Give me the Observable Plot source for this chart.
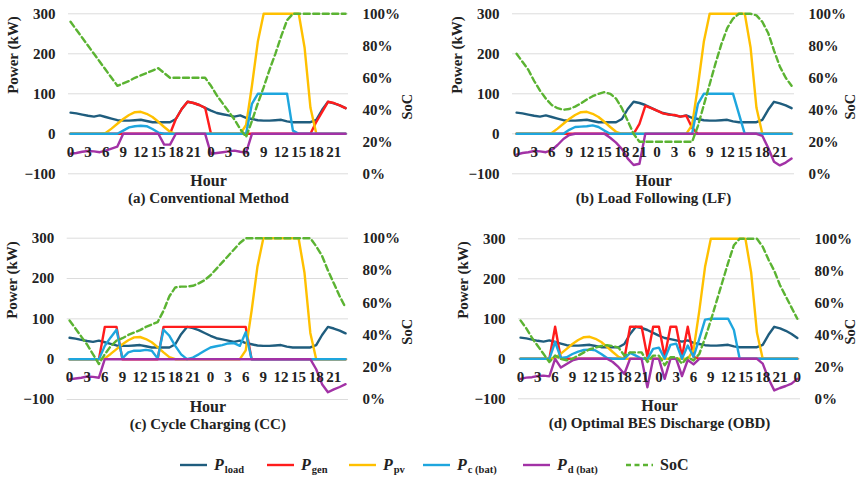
<!DOCTYPE html>
<html>
<head>
<meta charset="utf-8">
<script src="https://cdn.jsdelivr.net/npm/d3@7"></script>
<script src="https://cdn.jsdelivr.net/npm/@observablehq/plot@0.6"></script>
<style>
  html, body { margin: 0; padding: 0; background: #fff; }
  #wrap { position: relative; width: 858px; height: 480px; overflow: hidden; background: #fff;
          font-family: "Liberation Serif", "Times New Roman", serif; color: #222; }
  .panel { position: absolute; }
  .panel svg { overflow: visible; }
  .leg { position: absolute; top: 455px; height: 20px; display: flex; align-items: center; font-weight: bold; }
  .leg .P { font-style: italic; font-size: 16px; }
  .leg .sub { font-size: 10.5px; position: relative; top: 4px; margin-left: 1px; }
  .leg .plain { font-size: 16px; }
</style>
</head>
<body>
<div id="wrap"></div>
<script>
// ---------- data ----------
const hourTicks48 = [0, 3, 6, 9, 12, 15, 18, 21, 24, 27, 30, 33, 36, 39, 42, 45];
const hourTicks49 = [0, 3, 6, 9, 12, 15, 18, 21, 24, 27, 30, 33, 36, 39, 42, 45, 48];
const powerTicks = [-100, 0, 100, 200, 300];
const socTicks = [0, 20, 40, 60, 80, 100];

const loadABC = [53,51,48,45,43,46,42,38,34,33,33,34,35,32,29,29,29,29,37,62,80,77,72,65,
                 58,52,49,46,43,46,40,37,34,33,33,34,35,31,29,29,29,29,35,60,80,76,71,64];
const loadD   = [53,51,48,45,43,46,42,38,34,33,33,34,35,32,29,29,29,29,37,62,80,77,72,65,
                 58,52,49,46,43,46,40,37,34,33,33,34,35,31,29,29,29,29,35,60,80,76,70,62,52];

const pvABC = [0,0,0,0,0,0,2,13,25,37,47,54,55,50,42,30,17,5,0,0,0,0,0,0,
               0,0,0,0,0,0,22,120,230,300,300,300,300,300,300,300,215,65,0,0,0,0,0,0];
const pvD   = [0,0,0,0,0,0,2,13,25,37,47,54,55,50,42,30,17,5,0,0,0,0,0,0,
               0,0,0,0,0,0,22,120,230,300,300,300,300,300,300,300,215,65,0,0,0,0,0,0,0];

const genA = [0,0,0,0,0,0,0,0,0,0,0,0,0,0,0,0,0,0,37,62,80,77,72,65,
              0,0,0,0,0,0,0,0,0,0,0,0,0,0,0,0,0,0,30,55,80,77,71,64];
const genB = [0,0,0,0,0,0,0,0,0,0,0,0,0,0,0,0,0,0,0,0,0,25,70,64,
              58,51,48,47,43,45,15,0,0,0,0,0,0,0,0,0,0,0,0,0,0,0,0,0];
const genC = [0,0,0,0,0,0,80,80,80,0,0,0,0,0,0,0,80,80,80,80,80,80,80,80,
              80,80,80,80,80,80,80,0,0,0,0,0,0,0,0,0,0,0,0,0,0,0,0,0];
const genD = [0,0,0,0,0,0,80,0,0,0,0,0,0,0,0,0,0,0,0,80,80,80,5,80,
              80,5,80,80,5,80,5,0,0,0,0,0,0,0,0,0,0,0,0,0,0,0,0,0,0];

const pcA = [0,0,0,0,0,0,0,0,0,8,16,19,20,19,12,3,0,0,0,0,0,0,0,0,
             0,0,0,0,0,0,0,75,100,100,100,100,100,100,8,0,0,0,0,0,0,0,0,0];
const pcB = [0,0,0,0,0,0,0,0,0,10,17,18,19,21,17,8,0,0,0,0,0,0,0,0,
             0,0,0,0,0,0,0,75,100,100,100,100,100,100,50,0,0,0,0,0,0,0,0,0];
const pcC = [0,0,0,0,0,0,33,54,73,2,17,21,21,23,21,2,73,58,33,12,0,4,12,21,
             29,32,35,39,40,33,67,0,0,0,0,0,0,0,0,0,0,0,0,0,0,0,0,0];
const pcD = [0,0,0,0,0,0,42,2,4,12,18,22,23,21,12,2,0,0,0,15,8,0,0,25,
             28,0,35,38,0,33,5,50,98,100,100,100,100,72,0,0,0,0,0,0,0,0,0,0,0];

const pdA = [-50,-48,-45,-43,-44,-46,-42,-37,-32,0,0,0,0,0,0,0,-27,-27,0,0,0,0,0,0,
             -50,-48,-46,-44,-42,-45,-47,0,0,0,0,0,0,0,0,0,0,0,0,0,0,0,0,0];
const pdB = [-52,-48,-46,-43,-44,-46,-41,-28,-13,-3,0,0,0,0,0,0,-10,-22,-38,-62,-78,-75,0,0,
             0,0,0,0,0,0,0,0,0,0,0,0,0,0,0,0,0,0,-5,-35,-70,-79,-72,-62];
const pdC = [-50,-48,-46,-43,-44,-46,0,0,0,0,0,0,0,0,0,0,0,0,0,0,0,0,0,0,
             0,0,0,0,0,0,0,0,0,0,0,0,0,0,0,0,0,0,-25,-62,-82,-75,-69,-62];
const pdD = [-50,-47,-46,-43,-42,-44,0,-22,-13,-4,0,0,0,0,0,0,-8,-21,-38,0,0,0,-71,0,
             0,-50,0,0,-43,-3,-14,0,0,0,0,0,0,0,0,0,0,0,-12,-50,-79,-73,-68,-62,-50];

const socA = [95,90,85,80,75,70,65,60,55,56.5,58,60,61.5,63,64.5,66,63,60,60,60,60,60,60,60,
              55,49,44,39,34,28,23,33,44,54,65,75,86,96,100,100,100,100,100,100,100,100,100,100];
const socB = [75,70,65,58,52,47,43,41,40,40.5,42,44,46.5,48.5,50,51,50,47,41,33,25,20,20,20,
              20,20,20,20,20,20,20,30,43,56,69,81,91,97,100,100,100,99,95,88,77,67,60,55];
const socC = [49,44,39,34,28,22,28,33,36.5,38,40,41.5,43,45,46.5,48,55,64,69.5,70,70,70.5,72,74,
              77,81,85,89,93,97,100,100,100,100,100,100,100,100,100,100,100,100,95,89,80,72,64,57];
const socD = [49,44,38,33,28,23,27,25,24,25,27,29,31,32,33,33.5,33,32,27,29,29,29,23,27,
              27,21,26,26,22,26,24,28,38,49,61,73,85,96,100,100,100,100,95,87,80,71,64,57,50];

const seriesNames = ["load", "gen", "pv", "c (bat)", "d (bat)", "SoC"];
const titles = ["(a) Conventional Method", "(b) Load Following (LF)", "(c) Cycle Charging (CC)", "(d) Optimal BES Discharge (OBD)"];

// ---------- styles ----------
const colors = {load: "#1f5d7e", gen: "#ff1c1c", pv: "#ffc000", pc: "#1ea6de", pd: "#a232a6", soc: "#5bb332"};

const panels = [
  {title: titles[0], ticks: hourTicks48, load: loadABC, gen: genA, pv: pvABC, pc: pcA, pd: pdA, soc: socA,
   left: 0, top: 0, width: 430, height: 215, mt: 13.3, mb: 41.7, ml: 68, mr: 82, pad: [0.35, 0.5], socDx: 58.5},
  {title: titles[1], ticks: hourTicks48, load: loadABC, gen: genB, pv: pvABC, pc: pcB, pd: pdB, soc: socB,
   left: 430, top: 0, width: 428, height: 215, mt: 13.3, mb: 41.7, ml: 82, mr: 64, pad: [0.7, 0.5], socDx: 55.5},
  {title: titles[2], ticks: hourTicks48, load: loadABC, gen: genC, pv: pvABC, pc: pcC, pd: pdC, soc: socC,
   left: 0, top: 215, width: 430, height: 225, mt: 22.7, mb: 41, ml: 66.7, mr: 82, pad: [0.4, 0.5], socDx: 58.5},
  {title: titles[3], ticks: hourTicks49, load: loadD, gen: genD, pv: pvD, pc: pcD, pd: pdD, soc: socD,
   left: 430, top: 215, width: 428, height: 225, mt: 23.3, mb: 41.7, ml: 88, mr: 58, pad: [0.35, 0.55], socDx: 49.5}
];

const wrap = document.getElementById("wrap");

function lineMark(values, color, extra = {}) {
  return Plot.line(values, {x: (d, i) => i, y: d => d, stroke: color, strokeWidth: 2.4, ...extra});
}

for (const p of panels) {
  const n = p.load.length;
  const chart = Plot.plot({
    width: p.width, height: p.height,
    marginTop: p.mt, marginBottom: p.mb, marginLeft: p.ml, marginRight: p.mr,
    x: {domain: [-p.pad[0], n - 1 + p.pad[1]], axis: null},
    y: {domain: [-100, 300], axis: null},
    style: {fontFamily: "'Liberation Serif', 'Times New Roman', serif", fontWeight: "bold",
            fontSize: "15px", color: "#222", background: "transparent", overflow: "visible"},
    marks: [
      Plot.gridY(powerTicks, {stroke: "#dcdcdc", strokeOpacity: 1, strokeWidth: 1}),
      Plot.axisY(powerTicks, {anchor: "left", tickSize: 0, tickPadding: 13, label: null, fontSize: 15}),
      Plot.axisY(socTicks.map(s => s * 4 - 100), {anchor: "right", tickSize: 0, tickPadding: 14, label: null,
        fontSize: 15, textAnchor: "start", tickFormat: d => `${Math.round((d + 100) / 4)}%`}),
      lineMark(p.load, colors.load),
      lineMark(p.gen, colors.gen),
      lineMark(p.pv, colors.pv),
      lineMark(p.pc, colors.pc),
      lineMark(p.pd, colors.pd),
      Plot.line(p.soc, {x: (d, i) => i, y: d => d * 4 - 100, stroke: colors.soc, strokeWidth: 2.4,
        strokeDasharray: "6,3.5"}),
      Plot.text(p.ticks, {x: d => d, y: () => 0, text: d => String(d % 24), dy: 18.5, fontSize: 15}),
      Plot.text(["Power (kW)"], {frameAnchor: "left", rotate: -90, dx: -55, fontSize: 15}),
      Plot.text(["SoC"], {frameAnchor: "right", rotate: -90, dx: p.socDx, fontSize: 14.5}),
      Plot.text(["Hour"], {frameAnchor: "bottom", dy: 12, fontSize: 16}),
      Plot.text([p.title], {frameAnchor: "bottom", dy: 29.5, fontSize: 15})
    ]
  });
  const div = document.createElement("div");
  div.className = "panel";
  div.style.left = p.left + "px";
  div.style.top = p.top + "px";
  div.appendChild(chart);
  wrap.appendChild(div);
}

// ---------- legend ----------
const legendLayout = [
  {name: seriesNames[0], color: colors.load, x: 180, dash: null},
  {name: seriesNames[1], color: colors.gen, x: 267, dash: null},
  {name: seriesNames[2], color: colors.pv, x: 349, dash: null},
  {name: seriesNames[3], color: colors.pc, x: 423, dash: null},
  {name: seriesNames[4], color: colors.pd, x: 523, dash: null},
  {name: seriesNames[5], color: colors.soc, x: 626, dash: "5,3.5"}
];
for (const item of legendLayout) {
  const d = document.createElement("div");
  d.className = "leg";
  d.style.left = item.x + "px";
  const sw = `<svg width="27" height="10" style="margin-right:7px"><line x1="0" x2="27" y1="5" y2="5" stroke="${item.color}" stroke-width="2.4" ${item.dash ? `stroke-dasharray="${item.dash}"` : ""}/></svg>`;
  const label = item.name === "SoC"
    ? `<span class="plain">SoC</span>`
    : `<span class="P">P</span><span class="sub">${item.name}</span>`;
  d.innerHTML = sw + label;
  wrap.appendChild(d);
}
</script>
</body>
</html>
